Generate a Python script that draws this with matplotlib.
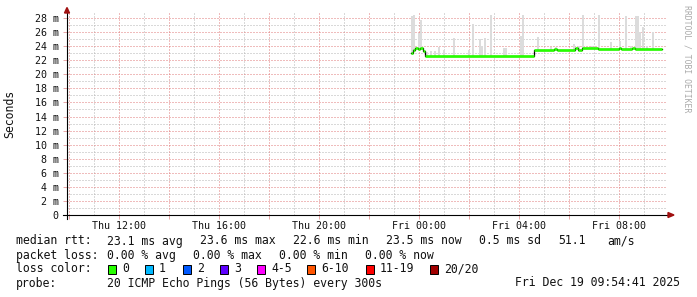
import numpy as np
import matplotlib
matplotlib.use('Agg')
import matplotlib.pyplot as plt
from matplotlib.patches import Rectangle, Polygon
from matplotlib.lines import Line2D
from matplotlib.ticker import FixedLocator, FuncFormatter

# ---------------- data (hours since Thu 00:00, values in ms) ----------------
start_h = 9.9114          # Thu 09:54:41
end_h = 33.9114           # Fri 09:54:41

# median rtt change points (step function)
med_t = [23.68, 23.76, 23.84, 23.96, 24.04, 24.14, 24.22, 28.60, 29.40, 29.52,
         30.24, 30.36, 30.52, 31.16, 31.98, 32.08, 32.52, 32.64]
med_v = [23.05, 23.45, 23.70, 23.55, 23.72, 23.30, 22.62, 23.50, 23.65, 23.50,
         23.68, 23.50, 23.68, 23.55, 23.70, 23.55, 23.68, 23.55]
med_end = 33.70

# smoke (max ping of a 5-minute step)
spike_t = [23.72, 23.80, 24.00, 24.08, 24.32, 24.48, 24.64, 24.78, 24.98, 25.40,
           26.00, 26.16, 26.42, 26.52, 26.64, 26.86, 27.40, 27.48, 28.08, 28.16,
           28.76, 29.28, 29.48, 30.18, 30.40, 30.56, 30.92, 31.20, 31.68, 32.02,
           32.28, 32.48, 32.68, 32.76, 32.84, 32.96, 33.10, 33.36]
spike_top = [28.3, 28.4, 25.9, 27.7, 23.2, 23.3, 23.3, 23.9, 23.4, 25.1,
             23.5, 27.2, 25.0, 24.0, 25.1, 28.4, 23.8, 23.8, 25.4, 28.4,
             25.3, 23.9, 23.9, 24.3, 24.0, 28.4, 24.0, 28.4, 24.6, 24.8,
             28.3, 24.0, 28.3, 28.3, 26.0, 26.7, 24.0, 26.0]

y_max = 29.0
y_major = list(range(0, 29, 2))
y_minor = list(range(1, 29, 2))
x_major = list(range(10, 34, 2))
x_minor = list(range(11, 34, 2))

rtt_items = ["median rtt:", "23.1 ms avg", "23.6 ms max", "22.6 ms min", "23.5 ms now",
             "0.5 ms sd", "51.1", "am/s"]
loss_items = ["packet loss:", "0.00 % avg", "0.00 % max", "0.00 % min", "0.00 % now"]
loss_labels = ["0", "1", "2", "3", "4-5", "6-10", "11-19", "20/20"]
loss_colors = ["#26ff00", "#00b8ff", "#0059ff", "#5e00ff", "#ff00fe", "#ff5500", "#ff0000", "#a10000"]
probe_items = ["probe:", "20 ICMP Echo Pings (56 Bytes) every 300s"]
stamp_text = "Fri Dec 19 09:54:41 2025"

# ---------------- figure ----------------
W, H = 697, 297
fig = plt.figure(figsize=(W / 100, H / 100), dpi=100)
fig.patch.set_facecolor('white')
MONO = 'DejaVu Sans Mono'
TXT = '#111111'


def fx(px):
    return px / W


def fy(py):
    return 1 - py / H


L, R, T, B = 67, 667, 11, 215
ax = fig.add_axes([fx(L), fy(B), (R - L) / W, (B - T) / H])
ax.set_facecolor('white')
ax.set_xlim(start_h, end_h)
ax.set_ylim(0, y_max)
for s in ax.spines.values():
    s.set_visible(False)

major_red = '#e07a7a'
minor_grey = '#b4b4b4'
dot = (0, (1, 2))
grid_kw = dict(lw=0.72, ls=dot)
for v in y_minor:
    ax.axhline(v, color=minor_grey, zorder=0, **grid_kw)
for v in x_minor:
    ax.axvline(v, color=minor_grey, zorder=0, **grid_kw)
for v in y_major:
    ax.axhline(v, color=major_red, zorder=0.5, **grid_kw)
for v in x_major:
    ax.axvline(v, color=major_red, zorder=0.5, **grid_kw)

# smoke
med_t_a = np.array(med_t)
med_v_a = np.array(med_v)
st = np.array(spike_t)
idx = np.clip(np.searchsorted(med_t_a, st, side='right') - 1, 0, len(med_v_a) - 1)
base = med_v_a[idx]
top = np.array(spike_top)
ax.bar(st, top - base, bottom=base, width=1 / 12, color='#dcdcdc', lw=0, zorder=2)

# median line: black step, green horizontal segments
xs = list(med_t) + [med_end]
ys = list(med_v) + [med_v[-1]]
ax.step(xs, ys, where='post', color='black', lw=0.9, zorder=3)
ax.hlines(med_v, med_t, xs[1:], color='#26ff00', lw=1.9, zorder=4)

# ticks
ax.yaxis.set_major_locator(FixedLocator(y_major))
ax.xaxis.set_major_locator(FixedLocator(x_major))
ax.yaxis.set_major_formatter(FuncFormatter(lambda v, p: "0" if v == 0 else f"{int(v)} m"))


def xfmt(v, p):
    h = int(round(v))
    if h % 4:
        return ""
    day = "Thu" if h < 24 else "Fri"
    return f"{day} {h % 24:02d}:00"


ax.xaxis.set_major_formatter(FuncFormatter(xfmt))
ax.tick_params(axis='y', length=3, width=0.72, color='#e8a8a8', pad=3,
               labelsize=7.2, labelcolor=TXT)
ax.tick_params(axis='x', length=3, width=0.72, color='#e8a8a8', pad=1.5,
               labelsize=7.2, labelcolor=TXT)
for lab in ax.get_xticklabels() + ax.get_yticklabels():
    lab.set_fontfamily(MONO)

# axis lines with arrows
axis_red = '#a01010'


def ax_px(px, py):
    return ((px - L) / (R - L), (B - py) / (B - T))


x0, y0 = ax_px(63, 215)
x1, _ = ax_px(669, 215)
ax.add_line(Line2D([x0, x1], [y0, y0], transform=ax.transAxes, color='black', lw=0.8,
                   clip_on=False, zorder=5))
xa, ya = ax_px(67, 219)
_, yb = ax_px(67, 12)
ax.add_line(Line2D([xa, xa], [ya, yb], transform=ax.transAxes, color='black', lw=0.8,
                   clip_on=False, zorder=5))
ax.add_patch(Polygon([ax_px(668, 212.5), ax_px(674, 215), ax_px(668, 217.5)], closed=True,
                     transform=ax.transAxes, color=axis_red, clip_on=False, zorder=6))
ax.add_patch(Polygon([ax_px(64.5, 13), ax_px(67, 7.5), ax_px(69.5, 13)], closed=True,
                     transform=ax.transAxes, color=axis_red, clip_on=False, zorder=6))

# y label and watermark
fig.text(fx(10), fy(114), "Seconds", rotation=90, ha='center', va='center',
         fontsize=8.3, family=MONO, color=TXT)
fig.text(fx(687), fy(5), "RRDTOOL / TOBI OETIKER", rotation=270, ha='center', va='top',
         fontsize=5.9, family=MONO, color='#aaaaaa')

# legend
LS = 8.3


def put(px, py, s, ha='left'):
    fig.text(fx(px), fy(py), s, ha=ha, va='center', fontsize=LS, family=MONO, color=TXT)


for px, s in zip([16, 107, 200, 293, 386, 479, 558, 607], rtt_items):
    put(px, 241, s)
for px, s in zip([16, 107, 193, 279, 365], loss_items):
    put(px, 255.5, s)
put(16, 269, "loss color:")
box_x = [108, 145, 183, 220, 257, 307, 366, 430]
for bx, lab, col in zip(box_x, loss_labels, loss_colors):
    fig.add_artist(Rectangle((fx(bx), fy(273.5)), 8 / W, 9 / H, transform=fig.transFigure,
                             facecolor=col, edgecolor='black', lw=0.7))
    put(bx + 14, 269, lab)
for px, s in zip([16, 107], probe_items):
    put(px, 283, s)
put(680, 283, stamp_text, ha='right')

fig.savefig('out.png', dpi=100, facecolor='white')
